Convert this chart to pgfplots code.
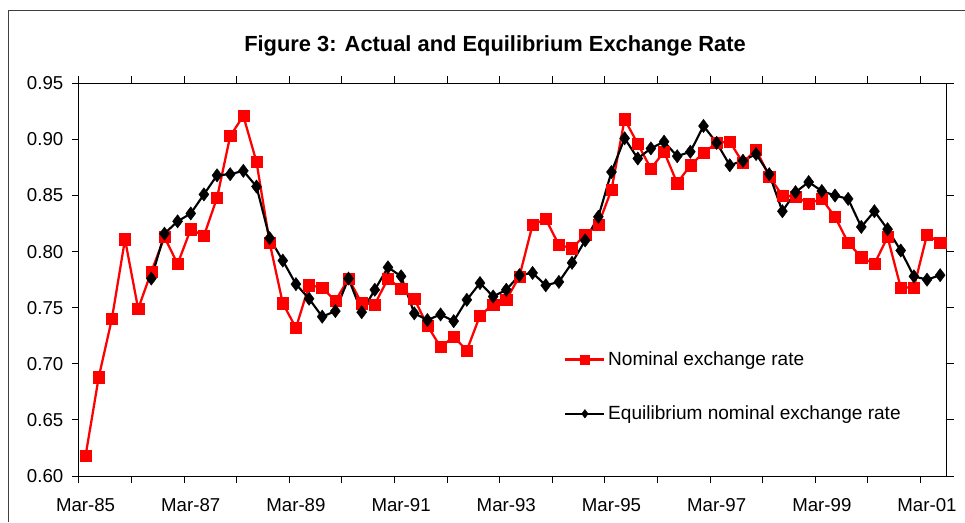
\documentclass[border=0pt]{standalone}
\usepackage{pgfplots}
\pgfplotsset{compat=1.18}
\usepackage{pgfplotstable}
\usepackage{fontspec}
\setmainfont{Liberation Sans}

% quarterly data, 0 = Mar-85
\pgfplotstableread{
q v
0 0.618
1 0.688
2 0.740
3 0.811
4 0.749
5 0.782
6 0.813
7 0.789
8 0.820
9 0.814
10 0.848
11 0.903
12 0.921
13 0.880
14 0.808
15 0.754
16 0.732
17 0.770
18 0.768
19 0.756
20 0.776
21 0.754
22 0.753
23 0.776
24 0.767
25 0.758
26 0.734
27 0.715
28 0.724
29 0.712
30 0.743
31 0.753
32 0.757
33 0.778
34 0.824
35 0.829
36 0.806
37 0.803
38 0.815
39 0.824
40 0.855
41 0.918
42 0.896
43 0.874
44 0.889
45 0.861
46 0.877
47 0.888
48 0.897
49 0.898
50 0.879
51 0.891
52 0.867
53 0.850
54 0.849
55 0.843
56 0.847
57 0.831
58 0.808
59 0.795
60 0.789
61 0.813
62 0.768
63 0.768
64 0.815
65 0.808
}\nominal

\pgfplotstableread{
q v
5 0.776
6 0.816
7 0.827
8 0.834
9 0.851
10 0.868
11 0.869
12 0.872
13 0.858
14 0.812
15 0.792
16 0.771
17 0.758
18 0.742
19 0.747
20 0.776
21 0.746
22 0.766
23 0.786
24 0.778
25 0.745
26 0.739
27 0.744
28 0.738
29 0.757
30 0.772
31 0.760
32 0.766
33 0.779
34 0.781
35 0.770
36 0.773
37 0.790
38 0.810
39 0.831
40 0.871
41 0.901
42 0.883
43 0.892
44 0.898
45 0.885
46 0.889
47 0.912
48 0.897
49 0.877
50 0.881
51 0.887
52 0.869
53 0.836
54 0.853
55 0.862
56 0.854
57 0.850
58 0.847
59 0.822
60 0.836
61 0.820
62 0.801
63 0.778
64 0.775
65 0.779
}\equil

\begin{document}
\begin{tikzpicture}[x=0.75pt,y=0.75pt]
\useasboundingbox (0,0) rectangle (965,522);
% chart area frame (cut off at right and bottom)
\draw[line width=0.75pt, black!75] (8,0) -- (8,511) -- (965,511);
\node[anchor=base, font=\fontsize{16.4}{19}\selectfont\bfseries] at (495,470)
  {Figure 3: Actual and Equilibrium Exchange Rate};

\begin{axis}[
    at={(59.25pt,34.5pt)}, anchor=south west,
    scale only axis,
    width=650.8pt, height=294.5pt,
    xmin=-0.5, xmax=65.5,
    ymin=0.6, ymax=0.95,
    clip=false,
    axis line style={line width=0.75pt},
    tick align=outside,
    major tick length=5.25pt,
    tick style={black, line width=0.75pt},
    xtick={-0.5,3.5,...,63.5},
    xticklabels={},
    extra x ticks={0,8,...,64},
    extra x tick labels={Mar-85,Mar-87,Mar-89,Mar-91,Mar-93,Mar-95,Mar-97,Mar-99,Mar-01},
    extra x tick style={major tick length=0pt, xticklabel style={yshift=-13pt}},
    ytick={0.6,0.65,0.7,0.75,0.8,0.85,0.9,0.95},
    yticklabel style={/pgf/number format/fixed, /pgf/number format/fixed zerofill,
        /pgf/number format/precision=2, xshift=-3pt},
    /pgf/number format/assume math mode=true,
    tick label style={font=\fontsize{14}{16.8}\selectfont},
    legend style={draw=none, fill=none, inner sep=0pt,
        at={(0.559,0.324)}, anchor=north west,
        font=\fontsize{14.3}{17}\selectfont, row sep=24.75pt},
    legend cell align=left,
    legend image code/.code={
        \draw[mark repeat=2, mark phase=2, #1, mark size=3.2pt]
            plot coordinates {(0pt,0pt) (14.6pt,0pt) (29.2pt,0pt)};
    },
]
% Nominal exchange rate
\addplot[color=red, line width=1.7pt, mark=square*, mark size=4.2pt,
    mark options={solid, fill=red, draw=red, line width=0.3pt}]
    table[x=q, y=v] {\nominal};
\addlegendentry{Nominal exchange rate}

% Equilibrium nominal exchange rate
\addplot[color=black, line width=1.6pt, mark=diamond*, mark size=5pt,
    mark options={solid, fill=black, line width=0.3pt}]
    table[x=q, y=v] {\equil};
\addlegendentry{Equilibrium nominal exchange rate}
\end{axis}
\end{tikzpicture}
\end{document}
